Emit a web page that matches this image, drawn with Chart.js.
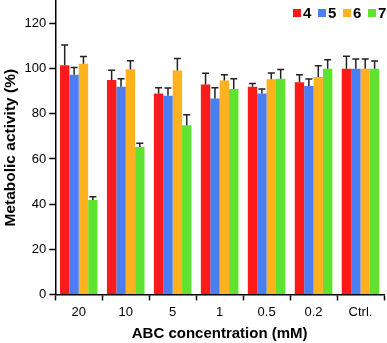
<!DOCTYPE html>
<html>
<head>
<meta charset="utf-8">
<script src="https://cdn.jsdelivr.net/npm/chart.js@4"></script>
<style>
  html, body { margin: 0; padding: 0; background: #fff; }
  #wrap { width: 387px; height: 343px; }
</style>
</head>
<body>
<div id="wrap"><canvas id="activityChart" width="387" height="343"></canvas></div>
<script>
const concentrations = ['20', '10', '5', '1', '0.5', '0.2', 'Ctrl.'];
const seriesNames = ['4', '5', '6', '7'];

// mean values (%)
const values4 = [101.5, 95, 89, 93, 92, 94, 100];
const values5 = [97.3, 92, 88, 86.8, 89, 92.3, 100];
const values6 = [102.2, 99.8, 99.2, 94.8, 95.3, 96.3, 100];
const values7 = [41.8, 65.3, 75, 91, 95.6, 100, 100];

// top of error bars (%)
const errTop4 = [110.5, 99.3, 91.6, 98, 93.5, 97.3, 105.5];
const errTop5 = [100.5, 95.5, 91.5, 91.6, 91, 95.4, 104.3];
const errTop6 = [105.4, 103.5, 104.5, 97.3, 98.1, 101.3, 104.3];
const errTop7 = [43.3, 67, 79.6, 95.6, 99.6, 104, 103.4];

const yTicks = [0, 20, 40, 60, 80, 100, 120];

const colors = ['#ff1a1a', '#4a7ef2', '#ffb21e', '#5fe330'];
const allValues = [values4, values5, values6, values7];
const allErrTops = [errTop4, errTop5, errTop6, errTop7];
const fontFamily = 'Liberation Sans, Arial, sans-serif';

// draws the upper half of the error bars (T shape)
const errorBars = {
  id: 'errorBars',
  afterDatasetsDraw(chart) {
    const ctx = chart.ctx;
    const yScale = chart.scales.y;
    ctx.save();
    ctx.strokeStyle = '#222';
    ctx.lineWidth = 1.5;
    chart.data.datasets.forEach((ds, i) => {
      const meta = chart.getDatasetMeta(i);
      meta.data.forEach((bar, j) => {
        const top = yScale.getPixelForValue(ds.errTop[j]);
        ctx.beginPath();
        ctx.moveTo(bar.x, bar.y);
        ctx.lineTo(bar.x, top);
        ctx.moveTo(bar.x - 3.5, top);
        ctx.lineTo(bar.x + 3.5, top);
        ctx.stroke();
      });
    });
    ctx.restore();
  }
};

// legend sitting inside the plot, top right
const insideLegend = {
  id: 'insideLegend',
  afterDraw(chart) {
    const ctx = chart.ctx;
    const itemW = 25;
    let x = 293;
    const y = 13;
    ctx.save();
    ctx.font = 'bold 15px ' + fontFamily;
    ctx.textBaseline = 'middle';
    chart.data.datasets.forEach((ds) => {
      ctx.fillStyle = ds.backgroundColor;
      ctx.fillRect(x, y - 4, 8, 8);
      ctx.fillStyle = '#000';
      ctx.fillText(ds.label, x + 10, y + 1);
      x += itemW;
    });
    ctx.restore();
  }
};

new Chart(document.getElementById('activityChart'), {
  type: 'bar',
  data: {
    labels: concentrations,
    datasets: seriesNames.map((name, i) => ({
      label: name,
      data: allValues[i],
      errTop: allErrTops[i],
      backgroundColor: colors[i],
      borderWidth: 0,
      categoryPercentage: 0.8,
      barPercentage: 1.0,
    })),
  },
  options: {
    responsive: false,
    animation: false,
    layout: { padding: { top: 1, right: 3, left: 1, bottom: 0 } },
    plugins: {
      legend: { display: false },
      tooltip: { enabled: false },
    },
    scales: {
      x: {
        grid: { offset: true, drawOnChartArea: false, tickLength: 6, color: '#000', tickWidth: 1.5 },
        border: { color: '#000', width: 1.5 },
        ticks: {
          color: '#000',
          padding: 4,
          font: { family: fontFamily, size: 13 },
        },
        title: {
          display: true,
          text: 'ABC concentration (mM)',
          color: '#000',
          padding: { top: 1, bottom: 0 },
          font: { family: fontFamily, size: 15, weight: 'bold' },
        },
      },
      y: {
        min: 0,
        max: 130,
        afterBuildTicks: (axis) => {
          axis.ticks = yTicks.map((v) => ({ value: v }));
        },
        afterFit: (axis) => {
          axis.paddingTop = 0;
        },
        grid: { drawOnChartArea: false, tickLength: 6, color: '#000', tickWidth: 1.5 },
        border: { color: '#000', width: 1.5 },
        ticks: {
          color: '#000',
          padding: 3,
          font: { family: fontFamily, size: 13 },
        },
        title: {
          display: true,
          text: 'Metabolic activity (%)',
          color: '#000',
          padding: { top: 0, bottom: 2 },
          font: { family: fontFamily, size: 15.5, weight: 'bold' },
        },
      },
    },
  },
  plugins: [errorBars, insideLegend],
});
</script>
</body>
</html>
